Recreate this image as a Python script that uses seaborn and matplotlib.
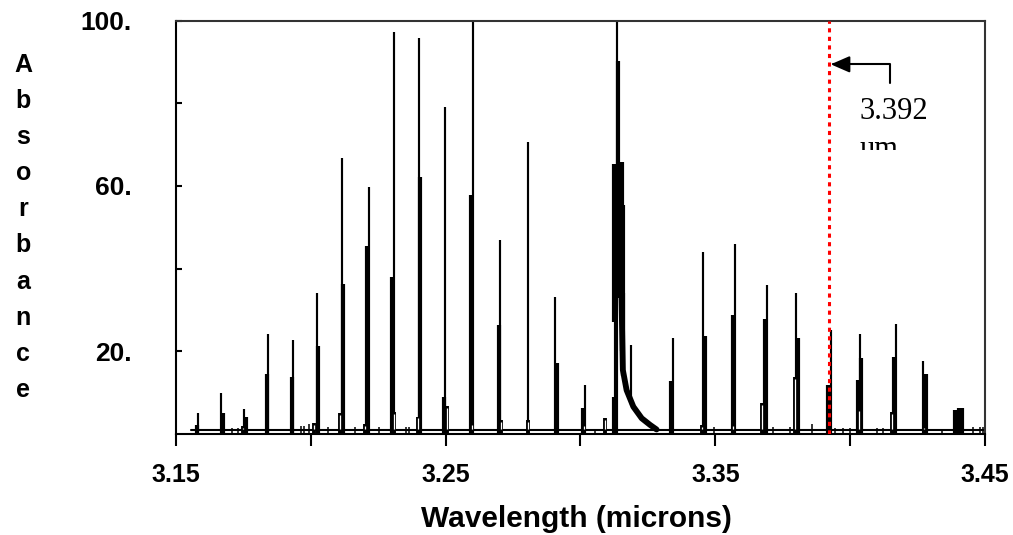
import numpy as np
import pandas as pd
import matplotlib
matplotlib.use("Agg")
import matplotlib.pyplot as plt
import seaborn as sns
from matplotlib.patches import Rectangle

# ---------------- data (wavelength in microns, absorbance) ----------------
# main (thin, tallest) absorption lines of each manifold
line_wl = [3.1581, 3.1667, 3.1751, 3.1842, 3.1935, 3.2022, 3.2114, 3.2215, 3.2307, 3.2400,
           3.2499, 3.2600, 3.2703, 3.2805, 3.2906, 3.3015, 3.3134, 3.3344, 3.3453, 3.3573,
           3.3690, 3.3799, 3.3928, 3.4036, 3.4170, 3.4271]
line_abs = [5.1, 9.9, 6.0, 24.3, 22.7, 34.0, 66.7, 59.7, 97.3, 95.8,
            79.1, 100.0, 47.0, 70.6, 33.2, 11.8, 100.0, 23.3, 43.9, 45.9,
            36.0, 34.1, 25.1, 24.3, 26.7, 17.7]

# blended companion lines (drawn as heavy bars)
blend_wl = [3.1577, 3.1673, 3.1758, 3.1836, 3.1930, 3.2028, 3.2118, 3.2207, 3.2300, 3.2406,
            3.2494, 3.2594, 3.2697, 3.2912, 3.3008, 3.3335, 3.3460, 3.3564, 3.3683, 3.3805,
            3.3919, 3.4028, 3.4040, 3.4163, 3.4282, 3.4390, 3.4402, 3.4413]
blend_abs = [2.2, 5.1, 4.1, 14.5, 13.8, 21.3, 36.2, 45.5, 38.0, 62.2,
             9.0, 57.9, 26.3, 17.2, 6.4, 12.8, 23.7, 28.7, 27.7, 23.1,
             11.8, 13.1, 18.3, 18.7, 14.5, 5.8, 6.4, 6.4]

# Q-branch (3.31 um) structure
q_bar_wl = [3.3125, 3.3140, 3.3153, 3.3157]
q_bar_lo = [27.0, 33.0, 20.0, 14.0]
q_bar_hi = [65.4, 90.3, 65.8, 34.0]
q_spike_wl = [3.3119, 3.3128, 3.3162, 3.3186]
q_spike_lo = [0.0, 0.0, 15.0, 7.0]
q_spike_hi = [9.0, 27.5, 55.3, 21.5]
q_tail_wl = [3.3152, 3.3157, 3.3171, 3.3196, 3.3227, 3.3258, 3.3282]
q_tail_abs = [33.2, 15.5, 10.6, 6.6, 3.8, 2.2, 1.1]

# small hollow (outlined) peaks at the feet of the manifolds
notch_wl = [3.1747, 3.2013, 3.2108, 3.2202, 3.2309, 3.2396, 3.2504, 3.2598, 3.2705, 3.2804,
            3.3014, 3.3091, 3.3452, 3.3564, 3.3674, 3.3794, 3.4034, 3.4154, 3.4273]
notch_abs = [2.0, 2.7, 5.0, 2.3, 5.4, 4.2, 6.8, 2.7, 3.4, 3.4,
             2.5, 3.9, 2.2, 2.5, 7.4, 13.8, 6.0, 5.4, 2.0]

# tiny baseline features
bump_wl = [3.1708, 3.1729, 3.1964, 3.1976, 3.1992, 3.2063, 3.2164, 3.2254, 3.2353, 3.2365,
           3.3054, 3.3495, 3.3715, 3.3777, 3.3857, 3.3944, 3.3974, 3.3999, 3.4098, 3.4123,
           3.4339, 3.4455, 3.4481, 3.4492]
bump_abs = [1.5, 1.5, 2.0, 2.0, 2.3, 1.7, 1.7, 1.7, 1.7, 1.7,
            1.2, 1.6, 1.7, 1.7, 2.5, 1.5, 1.5, 1.5, 1.5, 1.5,
            1.3, 1.7, 1.7, 1.7]

base_wl = [3.1555, 3.4495]
base_abs = [0.85, 0.85]

marker_wl = 3.392
x_ticks = [3.15, 3.20, 3.25, 3.30, 3.35, 3.40, 3.45]
x_tick_labels = ["3.15", "", "3.25", "", "3.35", "", "3.45"]
y_ticks = [20, 40, 60, 80, 100]
y_tick_labels = ["20.", "", "60.", "", "100."]

# ---------------- style ----------------
sns.set_theme(style="white")
plt.rcParams["font.family"] = ["Liberation Sans", "DejaVu Sans"]
plt.rcParams["text.color"] = "black"

W, H = 1013, 535
fig = plt.figure(figsize=(W / 100, H / 100), dpi=100)
ax = fig.add_axes([176 / W, 1 - 434 / H, (985 - 176) / W, (434 - 20.5) / H])


def sticks(wl, lo, hi):
    n = len(wl)
    return pd.DataFrame({
        "wl": np.repeat(wl, 2),
        "absorbance": np.column_stack([lo, hi]).ravel(),
        "line": np.repeat(np.arange(n), 2),
    })


def draw(df, lw, color="black", z=2):
    sns.lineplot(data=df, x="wl", y="absorbance", units="line", estimator=None,
                 sort=False, color=color, lw=lw, solid_capstyle="butt",
                 legend=False, ax=ax, zorder=z)


# baseline
sns.lineplot(x=base_wl, y=base_abs, color="black", lw=1.5, ax=ax, legend=False)
# tiny bumps
draw(sticks(bump_wl, np.zeros(len(bump_wl)), bump_abs), 1.1)
# hollow small peaks
draw(sticks(notch_wl, np.zeros(len(notch_wl)), notch_abs), 2.8)
draw(sticks(notch_wl, np.full(len(notch_wl), 1.3), np.array(notch_abs) - 0.45), 0.9,
     color="white", z=2.1)
# heavy blended bars
draw(sticks(blend_wl, np.zeros(len(blend_wl)), blend_abs), 3.0)
# main thin lines
draw(sticks(line_wl, np.zeros(len(line_wl)), line_abs), 1.55)
# Q-branch
draw(sticks(q_bar_wl, q_bar_lo, q_bar_hi), 3.0)
draw(sticks(q_spike_wl, q_spike_lo, q_spike_hi), 1.55)
sns.lineplot(x=q_tail_wl, y=q_tail_abs, sort=False, color="black", lw=4.2,
             ax=ax, legend=False)

# red dotted marker line
ax.axvline(marker_wl, color="#ff0000", lw=2.2, ls=(0, (1.35, 1.45)), zorder=3)

# axes formatting
ax.set_xlim(3.15, 3.45)
ax.set_ylim(0, 100)
ax.set_xlabel("")
ax.set_ylabel("")
ax.set_xticks(x_ticks)
ax.set_xticklabels(x_tick_labels, fontsize=18, fontweight="bold")
ax.set_yticks(y_ticks)
ax.set_yticklabels(y_tick_labels, fontsize=19, fontweight="bold")
ax.tick_params(axis="x", direction="out", length=8.6, width=1.5, pad=12,
               bottom=True, color="black", labelcolor="black")
ax.tick_params(axis="y", direction="in", length=4.3, width=1.5, pad=32,
               left=True, color="black", labelcolor="black")
for side, sp in ax.spines.items():
    sp.set_visible(True)
    sp.set_linewidth(1.5)
    sp.set_color("black" if side in ("left", "bottom") else "#333333")

# annotation arrow and label
ax.annotate("", xy=(3.3928, 89.4), xytext=(3.4147, 85.0),
            arrowprops=dict(arrowstyle="-|>,head_length=1.15,head_width=0.5",
                            mutation_scale=10, color="black", lw=1.5,
                            connectionstyle="angle,angleA=90,angleB=0,rad=0",
                            shrinkA=0, shrinkB=0), zorder=4)
ax.text(3.4033, 76.1, "3.392", family=["Liberation Serif", "DejaVu Serif"],
        fontsize=22, fontweight="normal", va="baseline", ha="left", color="black", zorder=4)
ax.text(3.4033, 67.0, "um", family=["Liberation Serif", "DejaVu Serif"],
        fontsize=22, fontweight="normal", va="baseline", ha="left", color="black", zorder=4)
ax.add_patch(Rectangle((3.4010, 62.0), 0.0470, 6.6, facecolor="white",
                       edgecolor="none", zorder=5))

# axis titles
fig.text(576.5 / W, 1 - 527 / H, "Wavelength (microns)", ha="center", va="baseline",
         fontsize=21.5, fontweight="bold", color="black")
for i, ch in enumerate("Absorbance"):
    fig.text(23.3 / W, 1 - (72 + 36.1 * i) / H, ch, ha="center", va="baseline",
             fontsize=18, fontweight="bold", color="black")

fig.savefig("out.png", dpi=100)
